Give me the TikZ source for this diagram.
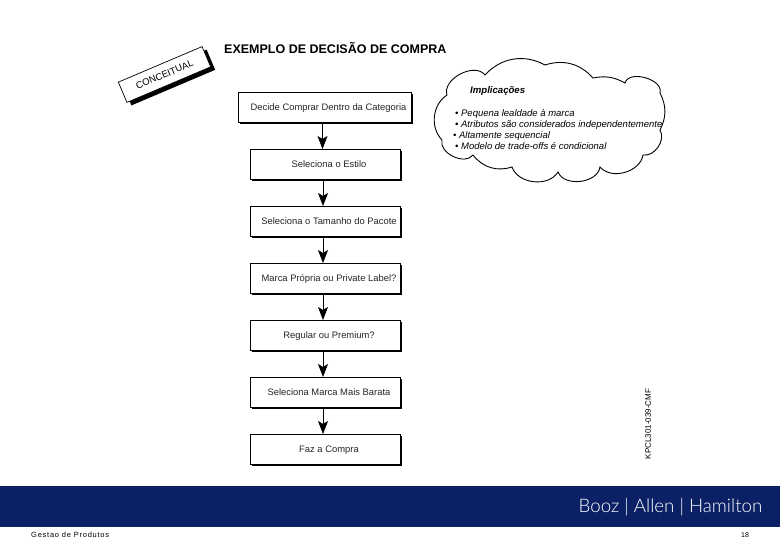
\documentclass[tikz,border=0pt]{standalone}
\usepackage{fontspec}
\setmainfont{Liberation Sans}
\newfontfamily\logofont{Lato Light}
\usetikzlibrary{positioning,arrows.meta,shadows}
\definecolor{bandblue}{HTML}{0C2165}
\tikzset{
  stepbox/.style={draw=black,line width=0.7pt,fill=white,minimum width=150pt,minimum height=30pt,inner sep=0pt,outer sep=0pt,
    font=\fontsize{9.4}{10}\selectfont,text=black!85,text height=7pt,text depth=0pt,execute at begin node={\hspace*{8pt}},
    general shadow={fill=black,shadow xshift=1.6pt,shadow yshift=-1.6pt}},
  flow/.style={line width=0.7pt,-{Stealth[inset=3pt,length=13pt,width=10pt]}}
}
\begin{document}
\begin{tikzpicture}[x=1pt,y=-1pt,node distance=27pt]
	\useasboundingbox (0,0) rectangle (780,540);
	\fill[white] (0,0) rectangle (780,540);

	\node[font=\fontsize{12.5}{14}\selectfont\bfseries,anchor=west,inner sep=0pt](title) at (224,48.5){EXEMPLO DE DECISÃO DE COMPRA};
	\node[draw=black,line width=0.7pt,fill=white,rotate=23,minimum width=91pt,minimum height=22pt,inner sep=0pt,
		font=\fontsize{9.5}{10}\selectfont,general shadow={fill=black,shadow xshift=4.5pt,shadow yshift=-3pt}](tag) at (164.5,74.5){CONCEITUAL};

	% coluna de decisoes
	\node[stepbox,minimum width=173pt](cat) at (324.5,107.5){Decide Comprar Dentro da Categoria};
	\node[stepbox](estilo) at (325,164){Seleciona o Estilo};
	\node[stepbox,below=of estilo](pacote){Seleciona o Tamanho do Pacote};
	\node[stepbox,below=of pacote](marca){Marca Própria ou Private Label?};
	\node[stepbox,below=of marca](premium){Regular ou Premium?};
	\node[stepbox,below=of premium](barata){Seleciona Marca Mais Barata};
	\node[stepbox,below=of barata](fim){Faz a Compra};

	\draw[flow] ([xshift=-2pt]cat.south) -- ([xshift=-2pt]cat.south |- estilo.north);
	\draw[flow] ([xshift=-2pt]estilo.south) -- ([xshift=-2pt]pacote.north);
	\draw[flow] ([xshift=-2pt]pacote.south) -- ([xshift=-2pt]marca.north);
	\draw[flow] ([xshift=-2pt]marca.south) -- ([xshift=-2pt]premium.north);
	\draw[flow] ([xshift=-2pt]premium.south) -- ([xshift=-2pt]barata.north);
	\draw[flow] ([xshift=-2pt]barata.south) -- ([xshift=-2pt]fim.north);

	% nuvem
	\draw[black,line width=0.9pt,fill=white]
		(447,95) to[bend left=80] (485,75) to[bend left=38] (545,65) to[bend left=33] (593,78)
		to[bend left=20] (625,83) to[bend left=90] (660,93) to[bend left=27] (660,130)
		to[bend left=65] (643,155) to[bend left=65] (600,167) to[bend left=75] (558,172)
		to[bend left=65] (512,167) to[bend left=35] (473,155) to[bend left=80] (442,140)
		to[bend left=50] cycle;
	\node[font=\fontsize{9.6}{10}\selectfont\bfseries\itshape,anchor=west,inner sep=0pt](impl) at (470,91.5){Implicações};
	\node[font=\fontsize{9.5}{11}\selectfont\itshape,anchor=north west,align=left,inner sep=0pt](lista) at (455,109.5){• Pequena lealdade à marca\\• Atributos são considerados independentemente\\\hspace*{-2pt}• Altamente sequencial\\• Modelo de trade-offs é condicional};

	\node[rotate=90,font=\fontsize{8}{9}\selectfont,inner sep=0pt](codigo) at (648,424){KPCL301-039-CMF};

	% rodape
	\node[fill=bandblue,minimum width=780pt,minimum height=41pt,inner sep=0pt](band) at (390,506.5){};
	\node[text=white,font=\logofont\fontsize{18.7}{20}\selectfont,anchor=east,inner sep=0pt](logo) at (762.5,507){Booz | Allen | Hamilton};
	\node[font=\fontsize{7.5}{8}\selectfont,anchor=west,inner sep=0pt](rodape) at (31,534.5){\addfontfeature{LetterSpace=10}Gestao de Produtos};
	\node[font=\fontsize{7}{8}\selectfont,inner sep=0pt](pagina) at (745,535){18};
\end{tikzpicture}
\end{document}
